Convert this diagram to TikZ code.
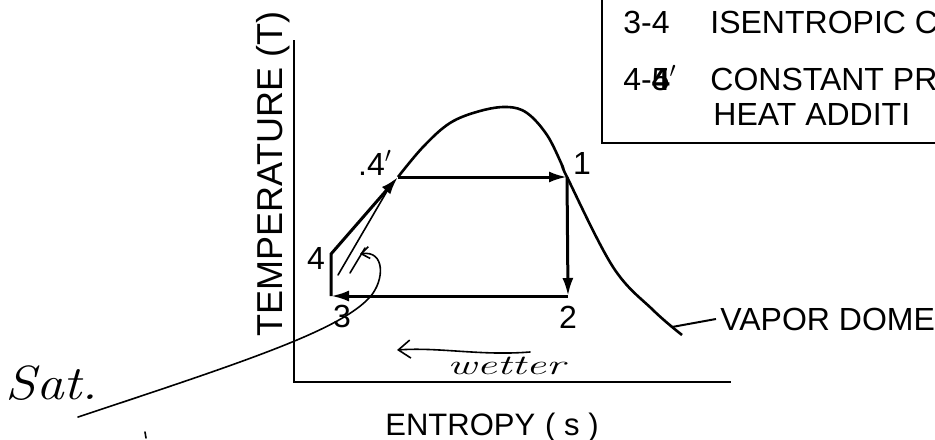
\documentclass[tikz,border=0pt]{standalone}
\usepackage{fontspec}
\setsansfont{Liberation Sans}
\usepackage{tikz}
\usetikzlibrary{arrows.meta, positioning, calc}

\begin{document}
\begin{tikzpicture}[
  x=0.5pt, y=-0.5pt,
  lbl/.style={font=\sffamily\fontsize{16}{18}\selectfont, inner sep=0pt},
  ttl/.style={font=\sffamily\fontsize{16}{18}\selectfont, inner sep=0pt, anchor=base west},
  hand/.style={font=\rmfamily\itshape\fontsize{24}{26}\selectfont, inner sep=0pt},
  cyc/.style={line width=1.5pt, line join=miter},
  arr/.style={cyc, -{Latex[length=9pt, width=5.5pt]}},
  dome/.style={line width=1.3pt},
  axis/.style={line width=1pt},
  pen/.style={line width=0.8pt, line cap=round},
]
\useasboundingbox (0,0) rectangle (935,439);

% state points of the cycle
\coordinate (s1)  at (567,177);
\coordinate (s2)  at (568,296);
\coordinate (s3)  at (331,296);
\coordinate (s4)  at (331,254);
\coordinate (s4p) at (398,177);
\coordinate (o)   at (294,382);

% axes
\draw[axis] (294,40) -- (o) -- (731,382);
\node[ttl, font=\sffamily\fontsize{18}{20}\selectfont, rotate=90] (ylab) at (282,337) {TEMPERATURE (T)};
\node[ttl, font=\sffamily\fontsize{15.5}{18}\selectfont] (xlab) at (385,435) {ENTROPY\hspace{5pt}( s )};

% vapor dome
\draw[dome] plot[smooth, tension=0.6] coordinates {(s4p) (423,147) (450,123) (480,111) (507,107) (527,113) (547,135) (562,165) (s1) (613,267) (653,310) (682,335)};
\coordinate (domept) at (672,327);
\node[ttl] (vapor) at (720,330) {VAPOR DOME};
\draw[line width=1pt] (domept) -- ([xshift=-2pt]vapor.west);

% cycle
\draw[arr] (s4p) -- (s1);
\draw[arr] (s1) -- (s2);
\draw[arr] (s2) -- (s3);
\draw[arr] (s3) -- (s4) -- (s4p);

\node[lbl] (l1)  at (582,163) {1};
\node[lbl] (l2)  at (568,317) {2};
\node[lbl] (l3)  at (342,316) {3};
\node[lbl] (l4)  at (316,258) {4};
\node[lbl] (l4p) at (375,163) {.4$'$};

% pen marks
\draw[pen] (338,275) -- (390,186);
\draw[pen] (350,273) -- (365,248);
\draw[pen] (145,432) -- (146,438);

\node[hand] (sat) at (52,383) {\scalebox{1.15}[1]{Sat.}};
\coordinate (sat0) at (78,417);
\coordinate (sat1) at (370,297);
\coordinate (sat2) at (360,254);
\draw[pen, -{Straight Barb[length=4pt, width=6pt]}] (sat0) .. controls (250,360) and (340,330) .. (sat1)
  .. controls (385,280) and (385,250) .. (sat2);

\coordinate (w0) at (530,352);
\coordinate (w1) at (397,350);
\draw[pen, -{Straight Barb[length=6pt, width=9pt]}] (w0) .. controls (480,356) and (440,347) .. (w1);
\node[hand, font=\rmfamily\itshape\fontsize{14}{16}\selectfont] (wet) at (506,366) {\scalebox{1.6}[1]{wetter}};

% legend box
\draw[line width=1.2pt] (945,143) -| (602,-5);
\node[ttl] (n34)  at (623,33)  {3-4};
\node[ttl] (t34)  at (710,33)  {ISENTROPIC C};
\node[ttl] (n44)  at (623,90)  {4-\rlap{5}\textbf{4}$'$};
\node[ttl] (t44)  at (710,90)  {CONSTANT PR};
\node[ttl] (t44b) at (713,125) {HEAT ADDITI};
\end{tikzpicture}
\end{document}
